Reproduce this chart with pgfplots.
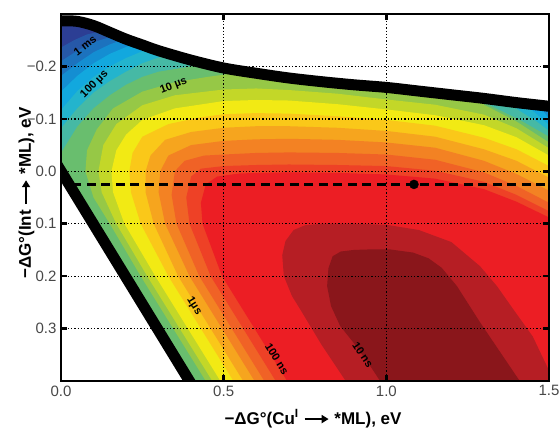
\documentclass[border=0pt]{standalone}
\usepackage{fontspec}
\setmainfont{Liberation Sans}
\usepackage{pgfplots}
\pgfplotsset{compat=1.18}
\usetikzlibrary{arrows.meta}

\definecolor{c0}{RGB}{44,62,148}
\definecolor{c1}{RGB}{38,88,168}
\definecolor{c2}{RGB}{28,114,190}
\definecolor{c3}{RGB}{20,142,210}
\definecolor{c4}{RGB}{18,168,222}
\definecolor{c5}{RGB}{35,180,205}
\definecolor{c6}{RGB}{70,185,165}
\definecolor{c7}{RGB}{105,190,110}
\definecolor{c8}{RGB}{150,200,70}
\definecolor{c9}{RGB}{195,215,40}
\definecolor{c10}{RGB}{242,234,20}
\definecolor{c11}{RGB}{250,200,25}
\definecolor{c12}{RGB}{246,165,30}
\definecolor{c13}{RGB}{243,130,35}
\definecolor{c14}{RGB}{240,98,38}
\definecolor{c15}{RGB}{238,65,38}
\definecolor{c16}{RGB}{236,30,36}
\definecolor{c17}{RGB}{182,30,36}
\definecolor{c18}{RGB}{138,22,27}

\newcommand{\arr}{\tikz[baseline=-0.55ex]\draw[line width=2.2pt,-{Triangle[length=7pt,width=8pt]}] (0,0) -- (24pt,0);}
\newcommand{\tl}[1]{{\fontsize{15}{17}\selectfont #1}}

\begin{document}
\begin{tikzpicture}
\useasboundingbox (-61pt,-51pt) rectangle (498pt,381pt);
\begin{axis}[
  name=ax, at={(0pt,0pt)}, anchor=south west,
  scale only axis, width=488pt, height=367pt,
  xmin=0, xmax=1.5, ymin=-0.3, ymax=0.4, y dir=reverse,
  axis on top,
  every axis/.append style={line width=2.5pt},
  xtick={0,0.5,1,1.5},
  xticklabels={\tl{0.0},\tl{0.5},\tl{1.0},\tl{1.5}},
  ytick={-0.2,-0.1,0,0.1,0.2,0.3},
  yticklabels={\tl{−0.2},\tl{−0.1},\tl{0.0},\tl{0.1},\tl{0.2},\tl{0.3}},
  grid=major, major grid style={black, line width=1.3pt, dotted},
  tick align=inside, major tick length=6pt,
  every tick/.style={black, line width=2.5pt},
  tick label style={text=black!72},
]
% bands, slowest first; each fill is the region at or above that level
\addplot[fill=c0, draw=none] coordinates {(0,-0.3) (1.5,-0.3) (1.5,0.4) (0,0.4)} --cycle;
\addplot[fill=c1, draw=none] coordinates {(0,-0.236) (0.04,-0.250) (0.08,-0.261) (0.13,-0.268) (0.13,-0.3) (1.5,-0.3) (1.5,0.4) (0,0.4)} --cycle;
\addplot[fill=c2, draw=none] coordinates {(0,-0.210) (0.05,-0.230) (0.1,-0.246) (0.16,-0.258) (0.16,-0.3) (1.5,-0.3) (1.5,0.4) (0,0.4)} --cycle;
\addplot[fill=c3, draw=none] coordinates {(0,-0.182) (0.05,-0.206) (0.1,-0.227) (0.15,-0.242) (0.2,-0.253) (0.2,-0.3) (1.5,-0.3) (1.5,0.4) (0,0.4)} --cycle;
\addplot[fill=c4, draw=none] coordinates {(0,-0.152) (0.05,-0.182) (0.1,-0.206) (0.15,-0.224) (0.2,-0.237) (0.24,-0.248) (0.24,-0.3) (1.47,-0.3) (1.47,-0.125) (1.5,-0.100) (1.5,0.4) (0,0.4)} --cycle;
\addplot[fill=c5, draw=none] coordinates {(0,-0.117) (0.05,-0.153) (0.1,-0.18) (0.15,-0.2) (0.2,-0.216) (0.25,-0.229) (0.3,-0.24) (0.3,-0.3) (1.42,-0.3) (1.42,-0.13) (1.46,-0.11) (1.5,-0.088) (1.5,0.4) (0,0.4)} --cycle;
\addplot[fill=c6, draw=none] coordinates {(0,-0.082) (0.05,-0.12) (0.1,-0.15) (0.15,-0.172) (0.2,-0.19) (0.25,-0.206) (0.3,-0.217) (0.36,-0.225) (0.36,-0.3) (1.36,-0.3) (1.36,-0.138) (1.41,-0.115) (1.46,-0.096) (1.5,-0.077) (1.5,0.4) (0,0.4)} --cycle;
\addplot[fill=c7, draw=none] coordinates {(0,-0.035) (0.05,-0.085) (0.1,-0.12) (0.15,-0.145) (0.2,-0.165) (0.25,-0.18) (0.3,-0.19) (0.4,-0.2) (0.46,-0.205) (0.46,-0.3) (1.26,-0.3) (1.26,-0.142) (1.32,-0.125) (1.41,-0.098) (1.5,-0.066) (1.5,0.4) (0,0.4)} --cycle;
\addplot[fill=c8, draw=none] coordinates {(0.445,0.4) (0.345,0.3) (0.245,0.2) (0.15,0.1) (0.1,0.05) (0.075,0.0) (0.08,-0.04) (0.11,-0.08) (0.16,-0.12) (0.25,-0.152) (0.35,-0.17) (0.45,-0.18) (0.52,-0.186) (0.52,-0.3) (1.3,-0.3) (1.3,-0.127) (1.4,-0.095) (1.5,-0.055) (1.5,0.4)} --cycle;
\addplot[fill=c9, draw=none] coordinates {(0.465,0.4) (0.365,0.3) (0.265,0.2) (0.17,0.1) (0.125,0.04) (0.115,0.0) (0.13,-0.05) (0.17,-0.09) (0.25,-0.126) (0.35,-0.145) (0.5,-0.156) (0.6,-0.158) (0.7,-0.155) (0.85,-0.148) (1.0,-0.137) (1.15,-0.127) (1.3,-0.108) (1.4,-0.082) (1.5,-0.044) (1.5,0.4)} --cycle;
\addplot[fill=c10, draw=none] coordinates {(0.49,0.4) (0.39,0.3) (0.29,0.2) (0.195,0.1) (0.16,0.04) (0.155,0.0) (0.17,-0.04) (0.2,-0.07) (0.25,-0.098) (0.35,-0.12) (0.5,-0.134) (0.6,-0.136) (0.7,-0.135) (0.85,-0.128) (1.0,-0.118) (1.15,-0.107) (1.3,-0.088) (1.4,-0.065) (1.5,-0.030) (1.5,0.4)} --cycle;
\addplot[fill=c11, draw=none] coordinates {(0.53,0.4) (0.43,0.3) (0.33,0.2) (0.245,0.1) (0.215,0.04) (0.21,0.0) (0.22,-0.035) (0.25,-0.066) (0.33,-0.09) (0.42,-0.102) (0.5,-0.109) (0.6,-0.111) (0.7,-0.11) (0.85,-0.105) (1.0,-0.098) (1.15,-0.087) (1.3,-0.064) (1.4,-0.042) (1.5,-0.010) (1.5,0.4)} --cycle;
\addplot[fill=c12, draw=none] coordinates {(0.56,0.4) (0.46,0.3) (0.36,0.2) (0.285,0.1) (0.26,0.04) (0.26,0.0) (0.275,-0.03) (0.32,-0.06) (0.4,-0.075) (0.5,-0.083) (0.6,-0.086) (0.7,-0.086) (0.85,-0.083) (1.0,-0.077) (1.15,-0.066) (1.3,-0.042) (1.4,-0.02) (1.5,0.012) (1.5,0.4)} --cycle;
\addplot[fill=c13, draw=none] coordinates {(0.595,0.4) (0.495,0.3) (0.395,0.2) (0.32,0.1) (0.30,0.04) (0.305,0.0) (0.33,-0.03) (0.4,-0.05) (0.5,-0.058) (0.6,-0.061) (0.7,-0.062) (0.85,-0.06) (1.0,-0.055) (1.15,-0.045) (1.3,-0.02) (1.4,0.005) (1.5,0.037) (1.5,0.4)} --cycle;
\addplot[fill=c14, draw=none] coordinates {(0.625,0.4) (0.525,0.3) (0.425,0.2) (0.355,0.1) (0.34,0.045) (0.35,0.0) (0.38,-0.02) (0.44,-0.03) (0.5,-0.032) (0.6,-0.035) (0.7,-0.036) (0.85,-0.035) (1.0,-0.032) (1.15,-0.022) (1.3,0.002) (1.4,0.028) (1.5,0.06) (1.5,0.4)} --cycle;
\addplot[fill=c15, draw=none] coordinates {(0.66,0.4) (0.56,0.3) (0.46,0.2) (0.395,0.1) (0.385,0.05) (0.40,0.01) (0.43,-0.005) (0.5,-0.010) (0.6,-0.012) (0.7,-0.013) (0.85,-0.012) (1.0,-0.010) (1.15,-0.001) (1.3,0.02) (1.4,0.045) (1.5,0.076) (1.5,0.4)} --cycle;
\addplot[fill=c16, draw=none] coordinates {(0.695,0.4) (0.595,0.3) (0.495,0.2) (0.435,0.1) (0.43,0.06) (0.445,0.025) (0.48,0.01) (0.55,0.004) (0.7,0.002) (0.85,0.003) (1.0,0.006) (1.15,0.014) (1.3,0.034) (1.4,0.058) (1.5,0.088) (1.5,0.4)} --cycle;
\addplot[fill=c17, draw=none] coordinates {(0.875,0.4) (0.80,0.33) (0.735,0.263) (0.71,0.238) (0.685,0.2) (0.68,0.16) (0.69,0.133) (0.715,0.112) (0.75,0.103) (0.8,0.1) (0.9,0.1) (1.0,0.102) (1.1,0.112) (1.2,0.135) (1.288,0.181) (1.34,0.219) (1.39,0.263) (1.45,0.315) (1.5,0.38) (1.5,0.4)} --cycle;
\addplot[fill=c18, draw=none] coordinates {(0.981,0.4) (0.95,0.371) (0.898,0.326) (0.858,0.295) (0.83,0.257) (0.818,0.219) (0.822,0.185) (0.835,0.162) (0.86,0.153) (0.9,0.15) (0.95,0.149) (1.011,0.149) (1.082,0.155) (1.13,0.166) (1.17,0.184) (1.217,0.219) (1.288,0.288) (1.35,0.345) (1.41,0.4)} --cycle;

% outside the allowed region
\addplot[fill=white, draw=none] coordinates {(0,-0.287) (0.05,-0.286) (0.1,-0.278) (0.15,-0.265) (0.2,-0.252) (0.25,-0.241) (0.3,-0.230) (0.4,-0.212) (0.5,-0.197) (0.6,-0.187) (0.7,-0.178) (0.8,-0.171) (0.9,-0.165) (1.0,-0.160) (1.1,-0.153) (1.2,-0.146) (1.3,-0.139) (1.4,-0.131) (1.5,-0.124) (1.5,-0.3) (0,-0.3)} --cycle;
\addplot[fill=white, draw=none] coordinates {(0,0) (0.395,0.4) (0,0.4)} --cycle;

% boundaries
\addplot[black, line width=11pt, smooth] coordinates {(-0.05,-0.287) (0,-0.287) (0.05,-0.286) (0.1,-0.278) (0.15,-0.265) (0.2,-0.252) (0.25,-0.241) (0.3,-0.230) (0.4,-0.212) (0.5,-0.197) (0.6,-0.187) (0.7,-0.178) (0.8,-0.171) (0.9,-0.165) (1.0,-0.160) (1.1,-0.153) (1.2,-0.146) (1.3,-0.139) (1.4,-0.131) (1.5,-0.124) (1.55,-0.120)};
\addplot[black, line width=11pt] coordinates {(-0.05,-0.051) (0.45,0.456)};

\addplot[black, line width=3.5pt, dash pattern=on 9pt off 5.5pt] coordinates {(0.035,0.025) (1.5,0.025)};
\addplot[only marks, mark=*, mark size=4.5pt, black, mark options={line width=0.4pt}] coordinates {(1.085,0.025)};

\begin{scope}[every node/.style={font=\fontsize{11}{13}\selectfont\bfseries, inner sep=0pt}]
\node[rotate=38] at (axis cs:0.074,-0.240) {1 ms};
\node[rotate=45] at (axis cs:0.103,-0.166) {100 µs};
\node[rotate=21] at (axis cs:0.346,-0.163) {10 µs};
\node[rotate=-58] at (axis cs:0.409,0.257) {1µs};
\node[rotate=-58] at (axis cs:0.664,0.358) {100 ns};
\node[rotate=-56] at (axis cs:0.928,0.350) {10 ns};
\end{scope}
\end{axis}
\node[anchor=base, font=\fontsize{17}{19}\selectfont\bfseries]
  at ([xshift=252pt, yshift=-43pt]ax.south west)
  {−ΔG°(Cu\textsuperscript{I} \arr{} *ML), eV};
\node[anchor=base, rotate=90, font=\fontsize{17}{19}\selectfont\bfseries]
  at ([xshift=-30pt, yshift=188pt]ax.south west)
  {−ΔG°(Int \arr{} *ML), eV};
\end{tikzpicture}
\end{document}
